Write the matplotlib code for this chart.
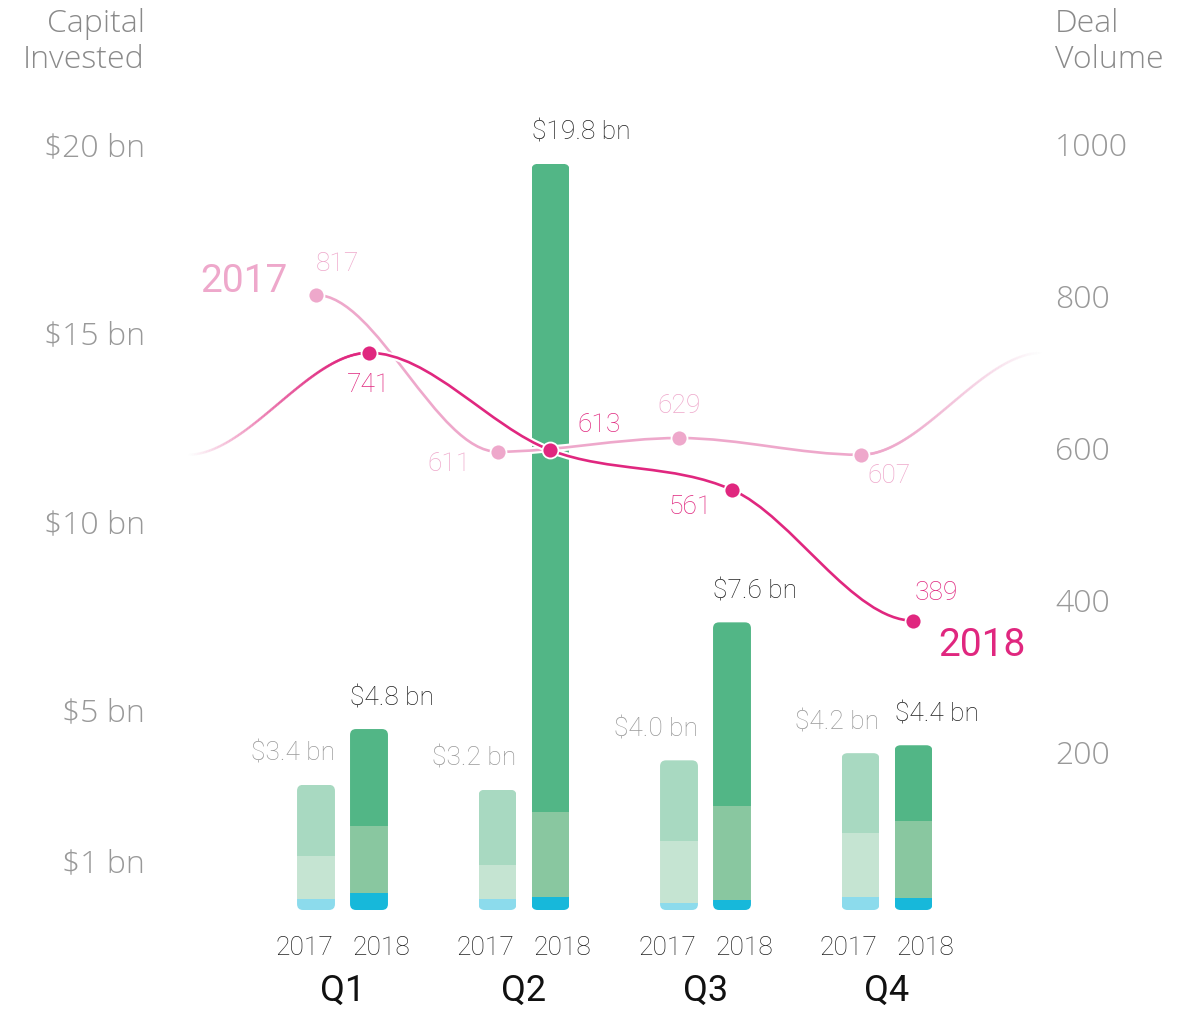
import numpy as np
import matplotlib
matplotlib.use("Agg")
import matplotlib.pyplot as plt
from matplotlib.path import Path
from matplotlib.patches import PathPatch, FancyBboxPatch
from matplotlib.collections import LineCollection
import matplotlib.patheffects as pe

# ---------------- data ----------------
quarters = ["Q1", "Q2", "Q3", "Q4"]
years = ["2017", "2018"]
# capital invested (bn) split into three stacked parts: bottom, middle, top
cap17_bottom = [0.29, 0.29, 0.19, 0.35]
cap17_mid = [1.15, 0.90, 1.64, 1.70]
cap17_top = [1.88, 2.00, 2.14, 2.11]
cap18_bottom = [0.46, 0.34, 0.27, 0.31]
cap18_mid = [1.77, 2.25, 2.50, 2.05]
cap18_top = [2.57, 17.20, 4.86, 2.01]
cap17_labels = ["$3.4 bn", "$3.2 bn", "$4.0 bn", "$4.2 bn"]
cap18_labels = ["$4.8 bn", "$19.8 bn", "$7.6 bn", "$4.4 bn"]
# deal volume
deals17 = [817, 611, 629, 607]
deals18 = [741, 613, 561, 389]
cap_ticks = [1, 5, 10, 15, 20]
cap_ticklabels = ["$1 bn", "$5 bn", "$10 bn", "$15 bn", "$20 bn"]
deal_ticks = [200, 400, 600, 800, 1000]

# ---------------- style ----------------
W, H = 1191, 1009
PX = 0.72  # points per pixel at dpi 100
C17 = ["#8cdbec", "#c5e4d2", "#a8d9c1"]
C18 = ["#17b8da", "#89c7a0", "#52b686"]
L17 = "#eea8cb"
L18 = "#e0277f"
ANN = "Roboto"
AX_FONT = "Open Sans"

fig = plt.figure(figsize=(W / 100, H / 100), dpi=100)
ax = fig.add_axes([150 / W, (H - 910) / H, (1045 - 150) / W, (910 - 120) / H])
g = np.arange(len(quarters))
d = 0.146
bw = 0.209
x17 = g - d
x18 = g + d
ax.set_xlim((150 - 342.5) / 181.5, (1045 - 342.5) / 181.5)
ax.set_ylim(0, 790 / 37.7)
for s in ax.spines.values():
    s.set_visible(False)

asp = 181.5 / 37.7
rs = 6 / 181.5


def stacked(xs, segs, colors):
    base = np.zeros(len(xs))
    conts = []
    for vals, c in zip(segs, colors):
        b = ax.bar(xs, vals, bw, bottom=base, color=c, linewidth=0, zorder=2)
        conts.append(b)
        base = base + np.array(vals)
    for i, x in enumerate(xs):
        clip = FancyBboxPatch((x - bw / 2, 0), bw, base[i],
                              boxstyle=f"round,pad=0,rounding_size={rs}",
                              mutation_aspect=asp, transform=ax.transData,
                              facecolor="none", edgecolor="none")
        ax.add_patch(clip)
        for b in conts:
            b[i].set_clip_path(clip)
    return base


tot17 = stacked(x17, [cap17_bottom, cap17_mid, cap17_top], C17)
tot18 = stacked(x18, [cap18_bottom, cap18_mid, cap18_top], C18)

for i in range(len(quarters)):
    ax.annotate(cap17_labels[i], (x17[i] + bw / 2, tot17[i]), xytext=(0, 31 * PX),
                textcoords="offset points", ha="right", va="center",
                fontsize=19, fontfamily=ANN, fontweight="light", color="#999999")
    ax.annotate(cap18_labels[i], (x18[i] - bw / 2, tot18[i]), xytext=(0, 31 * PX),
                textcoords="offset points", ha="left", va="center",
                fontsize=19, fontfamily=ANN, fontweight="light", color="#222222")

# y ticks left
ax.set_yticks(cap_ticks, cap_ticklabels)
ax.tick_params(axis="y", length=0, pad=5 * PX, labelsize=23, labelcolor="#999999")
for lab in ax.get_yticklabels():
    lab.set_fontfamily(AX_FONT)
    lab.set_fontweight("light")
    lab.set_va("baseline")

# x ticks: quarters (major) and year labels (minor, spread slightly apart)
yl = 38.5 / 181.5
ax.set_xticks(g, quarters)
ax.set_xticks(np.concatenate([g - yl, g + yl]),
              [years[0]] * len(quarters) + [years[1]] * len(quarters), minor=True)
ax.tick_params(axis="x", which="both", length=0)
ax.tick_params(axis="x", which="minor", pad=26 * PX, labelsize=19, labelcolor="#222222")
ax.tick_params(axis="x", which="major", pad=63 * PX, labelsize=26, labelcolor="#111111")
for lab in ax.get_xticklabels(which="minor"):
    lab.set_fontfamily(ANN)
    lab.set_fontweight("light")
for lab in ax.get_xticklabels(which="major"):
    lab.set_fontfamily(ANN)

# ---------------- deal volume lines ----------------
ax2 = ax.twinx()
ax2.set_ylim((916.7 - 910) / 0.761, (916.7 - 120) / 0.761)
for s in ax2.spines.values():
    s.set_visible(False)
ax2.set_yticks(deal_ticks, [str(v) for v in deal_ticks])
ax2.tick_params(axis="y", length=0, pad=10 * PX, labelsize=23, labelcolor="#999999")
for lab in ax2.get_yticklabels():
    lab.set_fontfamily(AX_FONT)
    lab.set_fontweight("light")
    lab.set_va("baseline")


def tangents(x, y):
    n = len(x)
    t = np.zeros(n)
    for i in range(1, n - 1):
        h0 = x[i] - x[i - 1]
        h1 = x[i + 1] - x[i]
        s0 = (y[i] - y[i - 1]) / h0
        s1 = (y[i + 1] - y[i]) / h1
        if s0 * s1 > 0:
            p = (s0 * h1 + s1 * h0) / (h0 + h1)
            t[i] = np.sign(s0) * 2 * min(abs(s0), abs(s1), 0.5 * abs(p))
    return t


def ctrl(x, y, t, i):
    dx = (x[i + 1] - x[i]) / 3
    return [(x[i], y[i]), (x[i] + dx, y[i] + dx * t[i]),
            (x[i + 1] - dx, y[i + 1] - dx * t[i + 1]), (x[i + 1], y[i + 1])]


def draw_curve(x, y, color, solid, fade, fade_in):
    x = np.asarray(x, float)
    y = np.asarray(y, float)
    t = tangents(x, y)
    verts, codes = [], []
    for k, i in enumerate(solid):
        c = ctrl(x, y, t, i)
        if k == 0:
            verts.append(c[0]); codes.append(Path.MOVETO)
        verts += c[1:]; codes += [Path.CURVE4] * 3
    halo = [pe.Stroke(linewidth=5, foreground="white"), pe.Normal()]
    ax2.add_patch(PathPatch(Path(verts, codes), fill=False, edgecolor=color,
                            linewidth=1.9, path_effects=halo, zorder=3))
    c = np.array(ctrl(x, y, t, fade))
    s = np.linspace(0, 1, 120)[:, None]
    pts = ((1 - s) ** 3 * c[0] + 3 * (1 - s) ** 2 * s * c[1]
           + 3 * (1 - s) * s ** 2 * c[2] + s ** 3 * c[3])
    segs = np.stack([pts[:-1], pts[1:]], axis=1)
    a = np.linspace(0, 1, len(segs))
    if not fade_in:
        a = 1 - a
    a = a ** 1.3
    rgba = np.array([matplotlib.colors.to_rgba(color, aa) for aa in a])
    ax2.add_collection(LineCollection(segs, colors=rgba, linewidth=1.9, zorder=3,
                                      capstyle="round"))


x17e = list(x17) + [x17[-1] + 1]
y17e = deals17 + [deals18[0]]
draw_curve(x17e, y17e, L17, solid=[0, 1, 2], fade=3, fade_in=False)
x18e = [x18[0] - 1] + list(x18)
y18e = [deals17[-1]] + deals18
draw_curve(x18e, y18e, L18, solid=[1, 2, 3], fade=0, fade_in=True)

ax2.plot(x17, deals17, "o", ms=11.5, color=L17, mec="white", mew=1.3, zorder=4, ls="none")
ax2.plot(x18, deals18, "o", ms=11.5, color=L18, mec="white", mew=1.3, zorder=5, ls="none")

off17 = [(0, 31, "left"), (-27, -12, "right"), (0, 32, "center"), (7, -21, "left")]
off18 = [(0, -32, "center"), (27, 25, "left"), (-20, -17, "right"), (1, 28, "left")]
for i in range(len(quarters)):
    ox, oy, ha = off17[i]
    ax2.annotate(str(deals17[i]), (x17[i], deals17[i]), xytext=(ox * PX, oy * PX),
                 textcoords="offset points", ha=ha, va="center", fontsize=19,
                 fontfamily=ANN, fontweight="light", color=L17, zorder=6)
    ox, oy, ha = off18[i]
    ax2.annotate(str(deals18[i]), (x18[i], deals18[i]), xytext=(ox * PX, oy * PX),
                 textcoords="offset points", ha=ha, va="center", fontsize=19,
                 fontfamily=ANN, fontweight="light", color=L18, zorder=6)

ax2.annotate(years[0], (x17[0], deals17[0]), xytext=(-28 * PX, 13 * PX),
             textcoords="offset points", ha="right", va="center", fontsize=28,
             fontfamily=ANN, color=L17)
ax2.annotate(years[1], (x18[-1], deals18[-1]), xytext=(25 * PX, -25 * PX),
             textcoords="offset points", ha="left", va="center", fontsize=28,
             fontfamily=ANN, color=L18)

# axis headers
fig.text(145 / W, 1 - 42 / H, "Capital\nInvested", ha="right", va="center",
         multialignment="right", fontsize=23, fontfamily=AX_FONT, fontweight="light",
         color="#8a8a8a", linespacing=1.2)
fig.text(1055 / W, 1 - 42 / H, "Deal\nVolume", ha="left", va="center",
         multialignment="left", fontsize=23, fontfamily=AX_FONT, fontweight="light",
         color="#8a8a8a", linespacing=1.2)

fig.savefig("out.png", dpi=100, facecolor="white")
